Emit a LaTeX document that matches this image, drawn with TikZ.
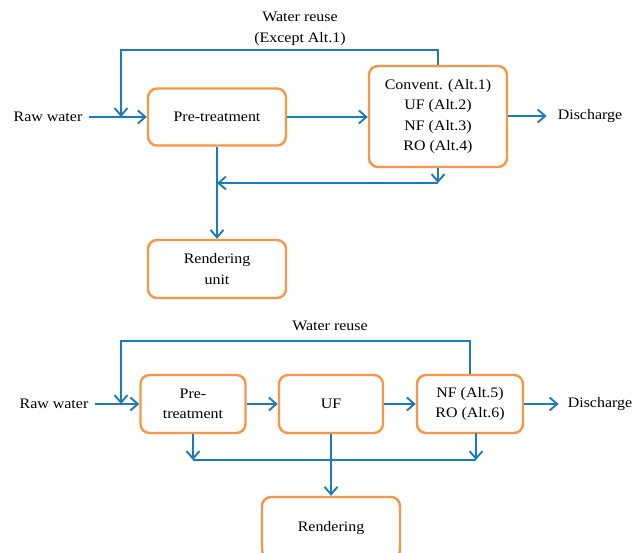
\documentclass[tikz,border=0pt]{standalone}
\usepackage{fontspec}
\setmainfont{Liberation Serif}[FakeStretch=1.1]
\usetikzlibrary{arrows.meta}
\definecolor{boxorange}{RGB}{247,150,70}
\definecolor{flowblue}{RGB}{30,122,190}
\begin{document}
\begin{tikzpicture}[x=1pt,y=-1pt,
  box/.style={draw=boxorange,line width=2.4pt,rounded corners=9pt,fill=white,align=center,inner sep=2pt},
  lbl/.style={align=center,inner sep=1pt},
  flow/.style={draw=flowblue,line width=1.9pt},
  arr/.style={flow,-{Straight Barb[length=7.5pt,width=13pt,line width=1.9pt]}},
  font=\fontsize{14.5}{20.5}\selectfont]
\useasboundingbox (0,0) rectangle (639,553);
% ---------- top diagram ----------
\node[box,minimum width=138pt,minimum height=57pt] (pre1) at (217,117) {Pre-treatment};
\node[box,minimum width=138pt,minimum height=101pt] (conv1) at (438,116.5) {Convent. (Alt.1)\\UF (Alt.2)\\NF (Alt.3)\\RO (Alt.4)};
\node[box,minimum width=138pt,minimum height=58pt] (rend1) at (217,269) {Rendering\\unit};
\node[lbl] (raw1) at (48,117) {Raw water};
\node[lbl] (dis1) at (590,116) {Discharge};
\node[lbl] (reuse1) at (300,29) {Water reuse\\(Except Alt.1)};
\coordinate (j1) at (121,117);
\coordinate (c1) at (217,183);
\draw[arr] ([xshift=5pt]raw1.east) -- (pre1.west);
\draw[arr] (pre1.east) -- (conv1.west |- pre1.east);
\draw[arr] (conv1.east |- dis1.west) -- ([xshift=-10pt]dis1.west);
\draw[arr] (conv1.north) -- ++(0,-15) -| (j1);
\draw[arr] (conv1.south) -- (conv1.south |- c1);
\draw[arr] (conv1.south |- c1) -- (c1);
\draw[arr] (pre1.south) -- (rend1.north);
% ---------- bottom diagram ----------
\node[box,minimum width=105pt,minimum height=58pt] (pre2) at (193,404) {Pre-\\treatment};
\node[box,minimum width=104pt,minimum height=58pt] (uf2) at (331,404) {UF};
\node[box,minimum width=106pt,minimum height=58pt] (nf2) at (470,404) {NF (Alt.5)\\RO (Alt.6)};
\node[box,minimum width=138pt,minimum height=62pt] (rend2) at (331,528) {Rendering};
\node[lbl] (raw2) at (54,404) {Raw water};
\node[lbl] (dis2) at (600,404) {Discharge};
\node[lbl] (reuse2) at (330,326) {Water reuse};
\coordinate (j2) at (121,404);
\coordinate (c2L) at (193,460);
\coordinate (c2R) at (476,460);
\coordinate (nfb) at (476,433);
\draw[arr] ([xshift=5pt]raw2.east) -- (pre2.west);
\draw[arr] (pre2.east) -- (uf2.west);
\draw[arr] (uf2.east) -- (nf2.west);
\draw[arr] (nf2.east) -- ([xshift=-8pt]dis2.west);
\draw[arr] (nf2.north) -- ++(0,-33) -| (j2);
\draw[arr] (pre2.south) -- (c2L);
\draw[arr] (nfb) -- (c2R);
\draw[flow] (c2L) -- (c2R);
\draw[arr] (uf2.south) -- (rend2.north);
\end{tikzpicture}
\end{document}
